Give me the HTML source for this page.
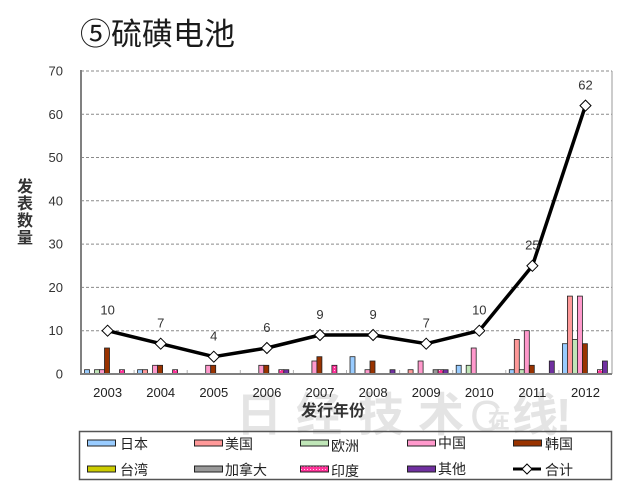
<!DOCTYPE html>
<html>
<head>
<meta charset="utf-8">
<style>
  html,body{margin:0;padding:0;background:#fff;}
  svg{display:block;}
  text{font-family:"Liberation Sans","Noto Sans CJK SC",sans-serif;}
</style>
</head>
<body>
<svg width="630" height="500" viewBox="0 0 630 500" xmlns="http://www.w3.org/2000/svg">
  <defs>
    <pattern id="dots" width="3" height="3" patternUnits="userSpaceOnUse">
      <rect width="3" height="3" fill="#ff3399"/>
      <rect x="1" y="1" width="1" height="1" fill="#ffd0e8"/>
    </pattern>
  </defs>
  <rect width="630" height="500" fill="#fff"/>

  <!-- watermark -->
  <g fill="#e4e4e4" font-weight="bold" font-size="46" font-family="'Noto Sans CJK SC','WenQuanYi Zen Hei',sans-serif">
    <text x="236" y="431">日</text>
    <text x="296" y="431">经</text>
    <text x="358" y="431">技</text>
    <text x="418" y="431">术</text>
    <text x="470" y="431" font-family="'Liberation Sans',sans-serif" font-weight="normal" font-size="44">C</text>
    <text x="488" y="428" font-size="22">在</text>
    <text x="512" y="431">线</text>
    <text x="556" y="431" font-family="'Liberation Sans',sans-serif">!</text>
  </g>

  <!-- title -->
  <text x="80" y="45" font-size="31" fill="#1a1a1a" font-family="'Noto Sans CJK SC',sans-serif">⑤硫磺电池</text>

  <!-- gridlines -->
  <g stroke="#8a8a8a" stroke-width="1" stroke-dasharray="3,2">
    <line x1="81" y1="71" x2="612" y2="71"/>
    <line x1="81" y1="114.3" x2="612" y2="114.3"/>
    <line x1="81" y1="157.5" x2="612" y2="157.5"/>
    <line x1="81" y1="200.8" x2="612" y2="200.8"/>
    <line x1="81" y1="244.1" x2="612" y2="244.1"/>
    <line x1="81" y1="287.4" x2="612" y2="287.4"/>
    <line x1="81" y1="330.7" x2="612" y2="330.7"/>
  </g>
  <line x1="612" y1="71" x2="612" y2="374" stroke="#9a9a9a" stroke-width="1"/>

  <!-- y tick labels -->
  <g font-size="13" fill="#333" text-anchor="end">
    <text x="63" y="75.5">70</text>
    <text x="63" y="118.8">60</text>
    <text x="63" y="162">50</text>
    <text x="63" y="205.3">40</text>
    <text x="63" y="248.6">30</text>
    <text x="63" y="291.9">20</text>
    <text x="63" y="335.2">10</text>
    <text x="63" y="378.5">0</text>
  </g>

  <!-- y axis title -->
  <g font-size="16" font-weight="bold" fill="#333" text-anchor="middle" font-family="'Noto Sans CJK SC',sans-serif">
    <text x="25" y="192">发</text>
    <text x="25" y="209">表</text>
    <text x="25" y="226">数</text>
    <text x="25" y="243">量</text>
  </g>

  <!-- bars -->
  <g stroke="#222" stroke-width="0.8">
    <!-- 2003 -->
    <rect x="84.5" y="369.7" width="5" height="4.3" fill="#99ccff"/>
    <rect x="94.5" y="369.7" width="5" height="4.3" fill="#c0e6b8"/>
    <rect x="99.5" y="369.7" width="5" height="4.3" fill="#ff99cc"/>
    <rect x="104.5" y="348" width="5" height="26" fill="#993300"/>
    <rect x="119.5" y="369.7" width="5" height="4.3" fill="url(#dots)"/>
    <!-- 2004 -->
    <rect x="137.6" y="369.7" width="5" height="4.3" fill="#99ccff"/>
    <rect x="142.6" y="369.7" width="5" height="4.3" fill="#ff9999"/>
    <rect x="152.6" y="365.3" width="5" height="8.7" fill="#ff99cc"/>
    <rect x="157.6" y="365.3" width="5" height="8.7" fill="#993300"/>
    <rect x="172.6" y="369.7" width="5" height="4.3" fill="url(#dots)"/>
    <!-- 2005 -->
    <rect x="205.7" y="365.3" width="5" height="8.7" fill="#ff99cc"/>
    <rect x="210.7" y="365.3" width="5" height="8.7" fill="#993300"/>
    <!-- 2006 -->
    <rect x="258.8" y="365.3" width="5" height="8.7" fill="#ff99cc"/>
    <rect x="263.8" y="365.3" width="5" height="8.7" fill="#993300"/>
    <rect x="278.8" y="369.7" width="5" height="4.3" fill="url(#dots)"/>
    <rect x="283.8" y="369.7" width="5" height="4.3" fill="#7030a0"/>
    <!-- 2007 -->
    <rect x="311.9" y="361" width="5" height="13" fill="#ff99cc"/>
    <rect x="316.9" y="356.7" width="5" height="17.3" fill="#993300"/>
    <rect x="331.9" y="365.3" width="5" height="8.7" fill="url(#dots)"/>
    <!-- 2008 -->
    <rect x="350" y="356.7" width="5" height="17.3" fill="#99ccff"/>
    <rect x="365" y="369.7" width="5" height="4.3" fill="#ff99cc"/>
    <rect x="370" y="361" width="5" height="13" fill="#993300"/>
    <rect x="390" y="369.7" width="5" height="4.3" fill="#7030a0"/>
    <!-- 2009 -->
    <rect x="408.1" y="369.7" width="5" height="4.3" fill="#ff9999"/>
    <rect x="418.1" y="361" width="5" height="13" fill="#ff99cc"/>
    <rect x="433.1" y="369.7" width="5" height="4.3" fill="#999999"/>
    <rect x="438.1" y="369.7" width="5" height="4.3" fill="url(#dots)"/>
    <rect x="443.1" y="369.7" width="5" height="4.3" fill="#7030a0"/>
    <!-- 2010 -->
    <rect x="456.2" y="365.3" width="5" height="8.7" fill="#99ccff"/>
    <rect x="466.2" y="365.3" width="5" height="8.7" fill="#c0e6b8"/>
    <rect x="471.2" y="348" width="5" height="26" fill="#ff99cc"/>
    <!-- 2011 -->
    <rect x="509.3" y="369.7" width="5" height="4.3" fill="#99ccff"/>
    <rect x="514.3" y="339.4" width="5" height="34.6" fill="#ff9999"/>
    <rect x="519.3" y="369.7" width="5" height="4.3" fill="#c0e6b8"/>
    <rect x="524.3" y="330.7" width="5" height="43.3" fill="#ff99cc"/>
    <rect x="529.3" y="365.3" width="5" height="8.7" fill="#993300"/>
    <rect x="549.3" y="361" width="5" height="13" fill="#7030a0"/>
    <!-- 2012 -->
    <rect x="562.4" y="343.7" width="5" height="30.3" fill="#99ccff"/>
    <rect x="567.4" y="296.1" width="5" height="77.9" fill="#ff9999"/>
    <rect x="572.4" y="339.4" width="5" height="34.6" fill="#c0e6b8"/>
    <rect x="577.4" y="296.1" width="5" height="77.9" fill="#ff99cc"/>
    <rect x="582.4" y="343.7" width="5" height="30.3" fill="#993300"/>
    <rect x="597.4" y="369.7" width="5" height="4.3" fill="url(#dots)"/>
    <rect x="602.4" y="361" width="5" height="13" fill="#7030a0"/>
  </g>

  <!-- axes -->
  <line x1="81" y1="70" x2="81" y2="375" stroke="#808080" stroke-width="2"/>
  <line x1="80" y1="374" x2="612" y2="374" stroke="#808080" stroke-width="2"/>
  <g stroke="#b0b0b0" stroke-width="1">
    <line x1="134.1" y1="370" x2="134.1" y2="373"/>
    <line x1="187.2" y1="370" x2="187.2" y2="373"/>
    <line x1="240.3" y1="370" x2="240.3" y2="373"/>
    <line x1="293.4" y1="370" x2="293.4" y2="373"/>
    <line x1="346.5" y1="370" x2="346.5" y2="373"/>
    <line x1="399.6" y1="370" x2="399.6" y2="373"/>
    <line x1="452.7" y1="370" x2="452.7" y2="373"/>
    <line x1="505.8" y1="370" x2="505.8" y2="373"/>
    <line x1="558.9" y1="370" x2="558.9" y2="373"/>
  </g>

  <!-- x tick labels -->
  <g font-size="13" fill="#222" text-anchor="middle">
    <text x="107.6" y="397">2003</text>
    <text x="160.7" y="397">2004</text>
    <text x="213.8" y="397">2005</text>
    <text x="266.9" y="397">2006</text>
    <text x="320" y="397">2007</text>
    <text x="373.1" y="397">2008</text>
    <text x="426.2" y="397">2009</text>
    <text x="479.3" y="397">2010</text>
    <text x="532.4" y="397">2011</text>
    <text x="585.5" y="397">2012</text>
  </g>
  <text x="333" y="416" font-size="16" font-weight="bold" fill="#333" text-anchor="middle" font-family="'Noto Sans CJK SC',sans-serif">发行年份</text>

  <!-- total line -->
  <polyline points="107.6,330.7 160.7,343.7 213.8,356.7 266.9,348 320,335 373.1,335 426.2,343.7 479.3,330.7 532.4,265.8 585.5,105.6"
            fill="none" stroke="#000" stroke-width="3.5" stroke-linejoin="round"/>
  <g fill="#fff" stroke="#000" stroke-width="1">
    <path d="M107.6,325.2 L113.1,330.7 L107.6,336.2 L102.1,330.7 Z"/>
    <path d="M160.7,338.2 L166.2,343.7 L160.7,349.2 L155.2,343.7 Z"/>
    <path d="M213.8,351.2 L219.3,356.7 L213.8,362.2 L208.3,356.7 Z"/>
    <path d="M266.9,342.5 L272.4,348 L266.9,353.5 L261.4,348 Z"/>
    <path d="M320,329.5 L325.5,335 L320,340.5 L314.5,335 Z"/>
    <path d="M373.1,329.5 L378.6,335 L373.1,340.5 L367.6,335 Z"/>
    <path d="M426.2,338.2 L431.7,343.7 L426.2,349.2 L420.7,343.7 Z"/>
    <path d="M479.3,325.2 L484.8,330.7 L479.3,336.2 L473.8,330.7 Z"/>
    <path d="M532.4,260.3 L537.9,265.8 L532.4,271.3 L526.9,265.8 Z"/>
    <path d="M585.5,100.1 L591,105.6 L585.5,111.1 L580,105.6 Z"/>
  </g>
  <g font-size="13" fill="#333" text-anchor="middle">
    <text x="107.6" y="314.5">10</text>
    <text x="160.7" y="327.5">7</text>
    <text x="213.8" y="340.5">4</text>
    <text x="266.9" y="331.8">6</text>
    <text x="320" y="318.8">9</text>
    <text x="373.1" y="318.8">9</text>
    <text x="426.2" y="327.5">7</text>
    <text x="479.3" y="314.5">10</text>
    <text x="532.4" y="249.6">25</text>
    <text x="585.5" y="89.4">62</text>
  </g>

  <!-- legend -->
  <rect x="79.5" y="431.5" width="532" height="48" fill="none" stroke="#555" stroke-width="1.5"/>
  <g stroke="#222" stroke-width="1">
    <rect x="87.5" y="440" width="28" height="6" fill="#99ccff"/>
    <rect x="194.5" y="440" width="28" height="6" fill="#ff9999"/>
    <rect x="300.5" y="440" width="28" height="6" fill="#c0e6b8"/>
    <rect x="407.5" y="440" width="28" height="6" fill="#ff99cc"/>
    <rect x="513.5" y="440" width="28" height="6" fill="#993300"/>
    <rect x="87.5" y="466" width="28" height="6" fill="#cccc00"/>
    <rect x="194.5" y="466" width="28" height="6" fill="#999999"/>
    <rect x="300.5" y="466" width="28" height="6" fill="url(#dots)"/>
    <rect x="407.5" y="466" width="28" height="6" fill="#7030a0"/>
  </g>
  <line x1="513" y1="469" x2="541" y2="469" stroke="#000" stroke-width="3"/>
  <path d="M527,464 L532,469 L527,474 L522,469 Z" fill="#fff" stroke="#000" stroke-width="1"/>
  <g font-size="14" fill="#222" font-family="'Noto Sans CJK SC',sans-serif">
    <text x="120" y="449">日本</text>
    <text x="225" y="449">美国</text>
    <text x="331" y="451">欧洲</text>
    <text x="438" y="448">中国</text>
    <text x="545" y="449">韩国</text>
    <text x="120" y="475">台湾</text>
    <text x="225" y="475">加拿大</text>
    <text x="331" y="476">印度</text>
    <text x="438" y="474">其他</text>
    <text x="545" y="475">合计</text>
  </g>
</svg>
</body>
</html>
